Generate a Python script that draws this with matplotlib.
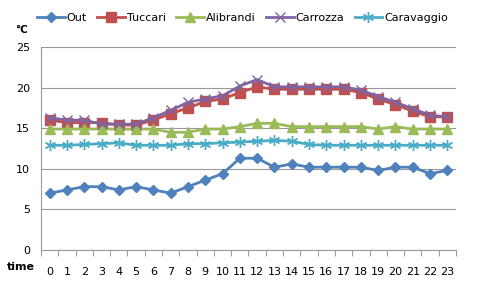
import numpy as np
import matplotlib.pyplot as plt

hours = list(range(24))
out = [7.0, 7.4, 7.8, 7.8, 7.4, 7.8, 7.4, 7.0, 7.8, 8.6, 9.4, 11.3,
       11.3, 10.2, 10.6, 10.2, 10.2, 10.2, 10.2, 9.8, 10.2, 10.2, 9.4, 9.8]
tuccari = [16.0, 15.7, 15.7, 15.7, 15.4, 15.4, 16.0, 16.8, 17.5, 18.3, 18.6, 19.4,
           20.1, 19.8, 19.8, 19.8, 19.8, 19.8, 19.4, 18.6, 17.9, 17.1, 16.4, 16.4]
alibrandi = [14.9, 14.9, 14.9, 14.9, 14.9, 14.9, 14.9, 14.5, 14.5, 14.9, 14.9, 15.2,
             15.6, 15.6, 15.2, 15.2, 15.2, 15.2, 15.2, 14.9, 15.2, 14.9, 14.9, 14.9]
carrozza = [16.3, 16.0, 16.0, 15.5, 15.5, 15.5, 16.3, 17.2, 18.2, 18.6, 19.0, 20.2,
            21.0, 20.1, 20.1, 20.1, 20.1, 20.1, 19.7, 18.9, 18.2, 17.4, 16.6, 16.4]
caravaggio = [12.9, 12.9, 13.0, 13.1, 13.2, 12.9, 12.9, 12.9, 13.1, 13.1, 13.2, 13.3,
              13.4, 13.5, 13.4, 13.0, 12.9, 12.9, 12.9, 12.9, 12.9, 12.9, 12.9, 12.9]

fig = plt.figure(figsize=(4.8, 2.87), dpi=100)
ax = fig.add_axes([0.0854, 0.129, 0.8646, 0.707])

ax.plot(hours, out, color='#4F81BD', lw=2, marker='D', ms=5, label='Out')
ax.plot(hours, tuccari, color='#C0504D', lw=2, marker='s', ms=7, label='Tuccari')
ax.plot(hours, alibrandi, color='#9BBB59', lw=2, marker='^', ms=7, label='Alibrandi')
ax.plot(hours, carrozza, color='#8064A2', lw=2, marker='x', ms=7, mew=1, label='Carrozza')
ax.plot(hours, caravaggio, color='#4BACC6', lw=2, marker=(6, 2, 0), ms=8, mew=1,
        label='Caravaggio')

ax.set_xlim(-0.5, 23.5)
ax.set_ylim(0, 25)
ax.set_yticks([0, 5, 10, 15, 20, 25])
ax.set_xticks(hours)
ax.set_xticks(np.arange(-0.5, 24, 1), minor=True)
ax.tick_params(axis='x', which='major', length=0, pad=12, labelsize=8)
ax.tick_params(axis='x', which='minor', length=4, color='#888888')
ax.tick_params(axis='y', length=0, pad=8, labelsize=8)
ax.grid(axis='y', color='#999999', lw=0.8)
ax.set_axisbelow(True)
for s in ['top', 'right']:
    ax.spines[s].set_visible(False)
ax.spines['left'].set_color('#999999')
ax.spines['bottom'].set_color('#999999')

fig.text(0.015, 0.06, 'time', fontsize=8, fontweight='bold')
fig.text(0.031, 0.885, '°C', fontsize=7.5, fontweight='bold')

ax.legend(loc='center left', bbox_to_anchor=(-0.01, 1.143), ncol=5, frameon=False,
          fontsize=8, handlelength=2.5, handletextpad=0.2, columnspacing=0.9,
          borderaxespad=0, borderpad=0)

fig.savefig('out.png', dpi=100)
